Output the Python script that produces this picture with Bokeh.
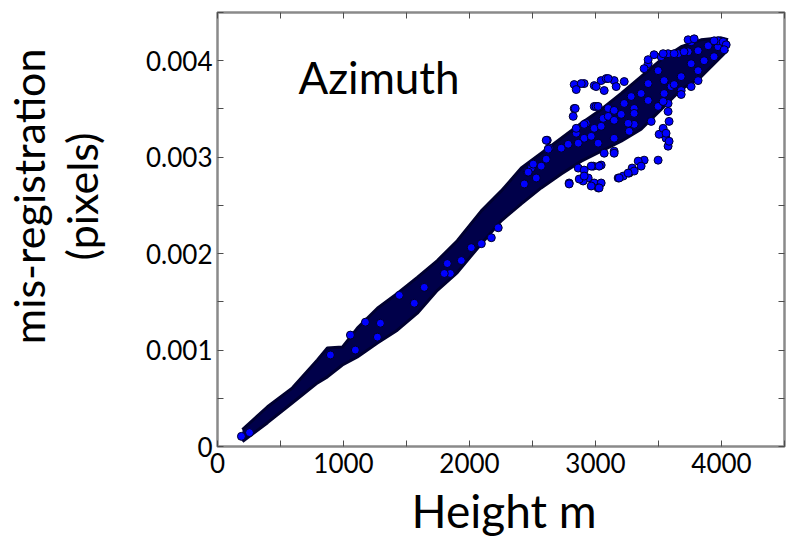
import math
from bokeh.plotting import figure
from bokeh.models import FixedTicker, LinearAxis, Label, Range1d, Title
from bokeh.embed import file_html
from bokeh.resources import INLINE

# ---- data ----
x_major = [0, 1000, 2000, 3000, 4000]
x_minor = [500, 1500, 2500, 3500, 4500]
y_major = [0, 0.001, 0.002, 0.003, 0.004]
y_minor = [0.0005, 0.0015, 0.0025, 0.0035, 0.0045]
y_tick_labels = ["0", "0.001", "0.002", "0.003", "0.004"]
x_tick_labels = ["0", "1000", "2000", "3000", "4000"]

# dense core of the scatter: extent of the point cloud at each height
band_x = [198, 397, 595, 793, 872, 991, 1110, 1269, 1427, 1586, 1745, 1903, 2094,
          2252, 2411, 2569, 2728, 2887, 3045, 3204, 3362, 3521, 3680, 3838, 3997, 4052]
band_lo = [0.000052, 0.000247, 0.000454, 0.000660, 0.000722, 0.000845, 0.000928,
           0.001072, 0.001206, 0.001382, 0.001619, 0.001804, 0.002103, 0.002340,
           0.002516, 0.002681, 0.002825, 0.002959, 0.003062, 0.003165, 0.003289,
           0.003495, 0.003701, 0.003835, 0.004042, 0.004114]
band_hi = [0.000175, 0.000412, 0.000608, 0.000897, 0.001021, 0.001031, 0.001227,
           0.001433, 0.001588, 0.001753, 0.001928, 0.002134, 0.002443, 0.002650,
           0.002887, 0.003041, 0.003196, 0.003351, 0.003495, 0.003660, 0.003835,
           0.004011, 0.004145, 0.004217, 0.004237, 0.004217]

# individually visible points (height m, mis-registration px)
pts_x = [190, 254, 896, 1055, 1094, 1174, 1293, 1269, 1562, 1443, 1848, 1824, 1641,
         2173, 2094, 2228, 2435, 2530, 2490, 2609, 2569, 2625, 2728, 2783, 2910, 2990,
         3061, 3101, 3204, 3307, 3442, 3307, 3148, 2863, 2014, 1935, 1800,
         3418, 3521, 3576, 3656, 3735, 3814, 3894, 3973, 3759, 3973, 3497, 3545, 3680,
         3814, 3862, 3941, 3759, 3418, 3362, 3283, 3148, 3228, 3101, 3045, 2966, 3148,
         3418, 3545, 3600, 3680, 3814, 3497, 3576, 3307, 3259, 3021,
         2910, 2990, 3045, 3085, 3148, 3228, 2990, 2926, 3164, 3069, 3267, 3148, 3069,
         3584, 3537, 3560, 3576, 3584, 3497, 3386, 3339, 3291, 3267, 3220, 3180, 3362,
         3045, 2982, 2910, 2942, 2990, 3045, 3021, 2902,
         2617, 2506, 2458, 2633, 2791, 2871, 2831, 2823, 2847, 2863, 2910, 3005, 3188,
         3307, 3505,
         2831, 2887, 2847, 3005, 3101, 2839, 2847, 3021, 2609, 2625, 2466, 2791, 2910,
         2966, 3029, 2966, 3029, 3148, 3259, 3537, 3560,
         3386, 3418, 3465, 3537, 3624, 3703, 3735, 3783, 3941, 4013, 4037, 4021, 3680,
         3759, 3624, 3537, 3576]
pts_y = [0.000105, 0.000144, 0.000949, 0.001155, 0.001000, 0.001289, 0.001278, 0.001134,
         0.001485, 0.001567, 0.001794, 0.001897, 0.001650,
         0.002165, 0.002103, 0.002268, 0.002722, 0.002784, 0.002887, 0.002979, 0.002907,
         0.003083, 0.003093, 0.003134, 0.003196, 0.003299, 0.003402, 0.003505, 0.003444,
         0.003340, 0.003371, 0.003505, 0.003196, 0.002887, 0.002062, 0.001928, 0.001794,
         0.003969, 0.004042, 0.004073, 0.004073, 0.004093, 0.004104, 0.004155, 0.004145,
         0.004196, 0.004206, 0.003897, 0.003794, 0.003835, 0.003897, 0.004000, 0.004042,
         0.003969, 0.003763, 0.003660, 0.003629, 0.003485, 0.003557, 0.003423, 0.003320,
         0.003216, 0.003382, 0.003588, 0.003660, 0.003732, 0.003691, 0.003794, 0.003526,
         0.003557, 0.003454, 0.003351, 0.003145,
         0.003763, 0.003742, 0.003794, 0.003815, 0.003794, 0.003784, 0.003526, 0.003351,
         0.003732, 0.003691, 0.003268, 0.003062, 0.003041,
         0.003371, 0.003278, 0.003196, 0.003114, 0.003165, 0.002969, 0.002969, 0.002959,
         0.002887, 0.002835, 0.002804, 0.002784, 0.002907,
         0.002918, 0.002907, 0.002866, 0.002784, 0.002732, 0.002732, 0.002681, 0.002753,
         0.003175, 0.002928, 0.002845, 0.003093, 0.002732, 0.002773, 0.003505, 0.003423,
         0.003248, 0.003145, 0.003340, 0.003526, 0.002784, 0.002856, 0.003237,
         0.003753, 0.003763, 0.003701, 0.003732, 0.003815, 0.003505, 0.003299, 0.003526,
         0.003175, 0.003083, 0.002845, 0.002722, 0.002804, 0.002907, 0.002907, 0.002701,
         0.002681, 0.003041, 0.002835, 0.003299, 0.003248,
         0.003918, 0.004011, 0.004062, 0.004073, 0.004073, 0.004093, 0.004217, 0.004227,
         0.004206, 0.004196, 0.004165, 0.004114, 0.003650, 0.003732, 0.003753, 0.003577,
         0.003474]

FONT = "Lato"

p = figure(width=789, height=542, x_range=Range1d(0, 4500), y_range=Range1d(0, 0.0045),
           output_backend="svg", toolbar_location=None,
           min_border_left=216, min_border_right=5, min_border_top=12, min_border_bottom=95)
p.grid.visible = False
p.outline_line_color = "#8a8a8a"
p.outline_line_width = 2.5
p.background_fill_color = "white"
p.border_fill_color = "white"

bottom_ax = p.below[0]
left_ax = p.left[0]

# mirrored axes for ticks on top / right
top_ax = LinearAxis()
right_ax = LinearAxis()
p.add_layout(top_ax, "above")
p.add_layout(right_ax, "right")


def style(ax, major, minor, labels=None, show=True, standoff=6):
    ax.ticker = FixedTicker(ticks=major, minor_ticks=minor)
    ax.axis_line_color = None
    ax.major_tick_in = 6
    ax.major_tick_out = 0
    ax.minor_tick_in = 6
    ax.minor_tick_out = 0
    ax.major_tick_line_color = "#4d4d4d"
    ax.minor_tick_line_color = "#4d4d4d"
    ax.major_tick_line_width = 1
    ax.minor_tick_line_width = 1
    if show:
        ax.major_label_text_font = FONT
        ax.major_label_text_font_size = "26px"
        ax.major_label_text_color = "black"
        ax.major_label_standoff = standoff
        if labels:
            ax.major_label_overrides = {t: l for t, l in zip(major, labels)}
    else:
        ax.major_label_text_font_size = "0px"
        ax.major_label_standoff = 0


style(bottom_ax, x_major, x_minor, x_tick_labels, True, 6)
style(left_ax, y_major, y_minor, y_tick_labels, True, 5)
style(top_ax, x_major, x_minor, show=False)
style(right_ax, y_major, y_minor, show=False)

# dense core
p.varea(x=band_x, y1=band_lo, y2=band_hi, fill_color="#00004a")
p.line(band_x, band_lo, line_color="#000030", line_width=3, line_join="round")
p.line(band_x, band_hi, line_color="#000030", line_width=3, line_join="round")

# individual points
p.scatter(pts_x, pts_y, size=8, fill_color="#0000ff", line_color="#000028", line_width=1)

# texts
p.add_layout(Label(x=642, y=0.00383, text="Azimuth", text_font=FONT, text_font_size="44px",
                   text_color="black", text_baseline="alphabetic", text_align="left"))

# white spacer between tick labels and the two-line y title
p.add_layout(Title(text=".", text_color="white", text_font_size="1px", standoff=34), "left")
p.add_layout(Title(text="(pixels)", align="right", offset=120, standoff=0,
                   text_font=FONT, text_font_size="43px", text_font_style="normal",
                   text_color="black"), "left")
p.add_layout(Title(text="mis-registration", align="right", offset=36, standoff=0,
                   text_font=FONT, text_font_size="43px", text_font_style="normal",
                   text_color="black"), "left")
p.add_layout(Title(text="Height m", align="left", offset=194, standoff=10,
                   text_font=FONT, text_font_size="46px", text_font_style="normal",
                   text_color="black"), "below")

open("out.html", "w").write(file_html(p, INLINE))
